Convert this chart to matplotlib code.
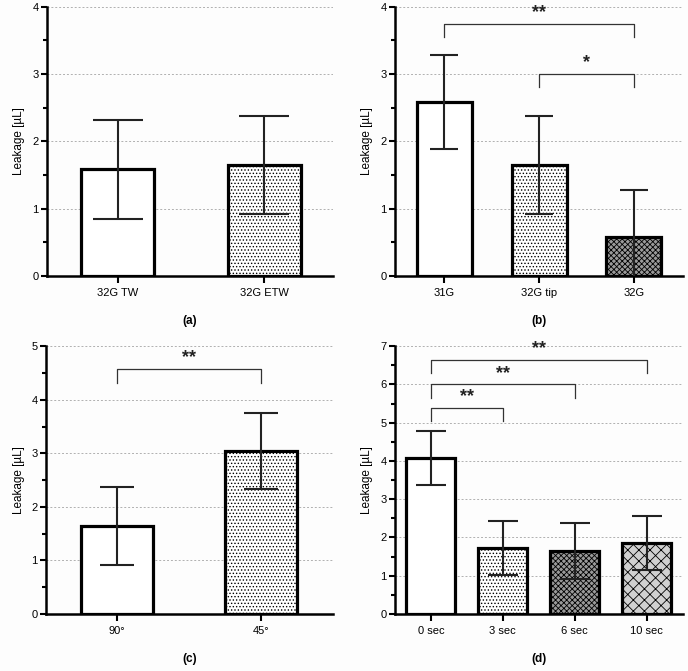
import matplotlib.pyplot as plt
from matplotlib.ticker import MultipleLocator

plt.rcParams['font.family'] = ['Liberation Sans', 'DejaVu Sans']
plt.rcParams['hatch.linewidth'] = 0.6

# panel (a)
a_labels = ['32G TW', '32G ETW']
a_means = [1.58, 1.65]
a_sd = [0.73, 0.73]

# panel (b)
b_labels = ['31G', '32G tip', '32G']
b_means = [2.58, 1.65, 0.58]
b_sd = [0.70, 0.73, 0.70]
b_brackets = [(0, 2, 3.75, '**'), (1, 2, 3.0, '*')]

# panel (c)
c_labels = ['90°', '45°']
c_means = [1.65, 3.05]
c_sd = [0.73, 0.71]
c_brackets = [(0, 1, 4.57, '**')]

# panel (d)
d_labels = ['0 sec', '3 sec', '6 sec', '10 sec']
d_means = [4.08, 1.72, 1.65, 1.85]
d_sd = [0.70, 0.70, 0.73, 0.70]
d_brackets = [(0, 1, 5.39, '**'), (0, 2, 6.0, '**'), (0, 3, 6.65, '**')]

# fill styles: (facecolor, hatch)
styles = {
    'white': ('white', None),
    'dots': ('white', '.....'),
    'dark': ('#9a9a9a', 'xxxxxx'),
    'check': ('#d0d0d0', 'xxx'),
}

fig = plt.figure(figsize=(6.88, 6.71), dpi=100)
fig.patch.set_facecolor('#fdfdfd')


def draw_panel(rect, labels, means, sds, fills, ymax, xlim, width, cap,
               brackets, tag):
    ax = fig.add_axes(rect)
    ax.set_facecolor('#fdfdfd')
    x = list(range(len(labels)))
    for i in x:
        fc, hatch = styles[fills[i]]
        ax.bar(i, means[i], width=width, color=fc, hatch=hatch,
               edgecolor='black', linewidth=2.3, zorder=3)
    ax.errorbar(x, means, yerr=sds, fmt='none', ecolor='#222222',
                elinewidth=1.5, capsize=cap, capthick=1.5, zorder=4)
    ax.set_xlim(*xlim)
    ax.set_ylim(0, ymax)
    ax.set_xticks(x)
    ax.set_xticklabels(labels, fontsize=8)
    ax.yaxis.set_major_locator(MultipleLocator(1))
    ax.yaxis.set_minor_locator(MultipleLocator(0.5))
    ax.tick_params(axis='y', which='major', labelsize=8, length=4, width=1.5, pad=2)
    ax.tick_params(axis='y', which='minor', length=3, width=1.5)
    ax.tick_params(axis='x', length=5, width=1.5, pad=4)
    for s in ['top', 'right']:
        ax.spines[s].set_visible(False)
    for s in ['left', 'bottom']:
        ax.spines[s].set_linewidth(1.8)
    ax.grid(axis='y', which='major', linestyle=(0, (2, 2)), color='#b0b0b0',
            linewidth=0.7, zorder=0)
    ax.set_ylabel('Leakage [µL]', fontsize=8.5, labelpad=5)
    leg = ymax * 0.05
    for i, j, y, star in brackets:
        ax.plot([i, i, j, j], [y - leg, y, y, y - leg], color='#333333',
                linewidth=0.9, zorder=5, clip_on=False)
        ax.text((i + j) / 2, y + ymax * 0.01, star, ha='center', va='bottom',
                fontsize=13, fontweight='bold', color='#222222')
    ax.text(0.5, -0.145, tag, transform=ax.transAxes, ha='center', va='top',
            fontsize=8.5, fontweight='bold')
    return ax


draw_panel([0.068, 0.589, 0.416, 0.401], a_labels, a_means, a_sd,
           ['white', 'dots'], 4, (-0.486, 1.47), 0.5, 18, [], '(a)')
draw_panel([0.574, 0.589, 0.419, 0.401], b_labels, b_means, b_sd,
           ['white', 'dots', 'dark'], 4, (-0.52, 2.52), 0.58, 10, b_brackets, '(b)')
draw_panel([0.067, 0.085, 0.417, 0.399], c_labels, c_means, c_sd,
           ['white', 'dots'], 5, (-0.49, 1.5), 0.5, 12.5, c_brackets, '(c)')
draw_panel([0.574, 0.085, 0.419, 0.399], d_labels, d_means, d_sd,
           ['white', 'dots', 'dark', 'check'], 7, (-0.5, 3.51), 0.68, 11,
           d_brackets, '(d)')

fig.savefig('out.png', dpi=100, facecolor=fig.get_facecolor())
